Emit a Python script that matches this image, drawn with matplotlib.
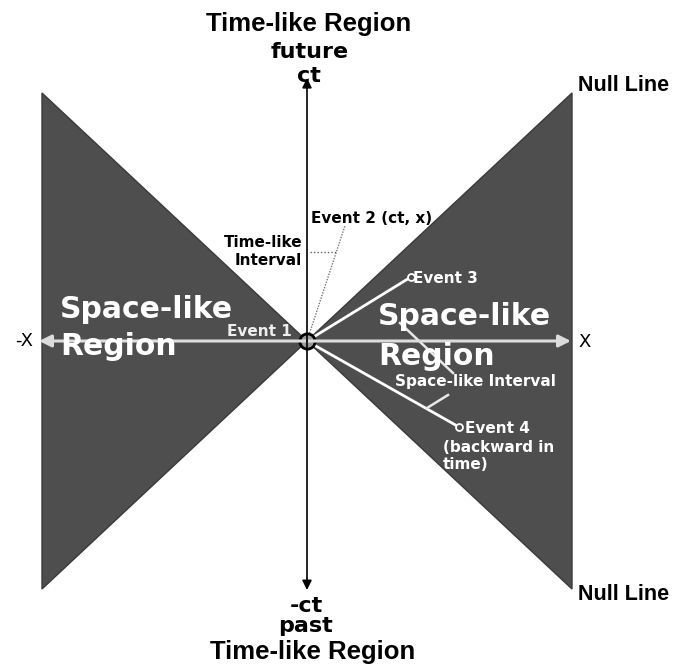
import matplotlib.pyplot as plt
from matplotlib.patches import Polygon

# ---- data (spacetime units: x, ct) ----
cone_extent = 1.0                      # null lines ct = +/- x, drawn out to |x| = 1
event_names = ["Event 1", "Event 2 (ct, x)", "Event 3", "Event 4", "(backward in", "time)"]
event_x = [0.0, 0.143, 0.392, 0.574]
event_ct = [0.0, 0.464, 0.258, -0.347]
timelike_interval_ct = 0.359
axis_x_range = [-1.011, 0.996]
axis_ct_range = [-1.004, 1.06]

SX, SY = 265.0, 248.0   # px per unit
CX, CY = 307.0, 341.0   # origin in pixels
W, H = 675, 666

fig = plt.figure(figsize=(W / 100, H / 100), dpi=100)
ax = fig.add_axes([0, 0, 1, 1])
ax.set_xlim(-CX / SX, (W - CX) / SX)
ax.set_ylim((CY - H) / SY, CY / SY)
ax.axis("off")

gray = "#4e4e4e"
e = cone_extent
ax.add_patch(Polygon([(-e, e), (0, 0), (-e, -e)], closed=True, fc=gray, ec="#3a3a3a", lw=1))
ax.add_patch(Polygon([(e, e), (0, 0), (e, -e)], closed=True, fc=gray, ec="#3a3a3a", lw=1))

# horizontal x-axis (light) with arrows at both ends
for end in axis_x_range:
    ax.annotate("", xy=(end, 0), xytext=(0, 0),
                arrowprops=dict(arrowstyle="-|>", color="#dcdcdc", lw=2.2, mutation_scale=18,
                                shrinkA=0, shrinkB=0))
# vertical ct-axis (black)
for end in axis_ct_range:
    ax.annotate("", xy=(0, end), xytext=(0, 0),
                arrowprops=dict(arrowstyle="-|>", color="black", lw=1.2, mutation_scale=14,
                                shrinkA=0, shrinkB=0))

# event 2 (time-like) dotted line
ax.plot([0, event_x[1]], [0, event_ct[1]], color="#777777", lw=1, ls=(0, (1, 1)))
ti_x = event_x[1] * timelike_interval_ct / event_ct[1]
ax.plot([0.01, ti_x], [timelike_interval_ct] * 2, color="#666666", lw=1, ls=(0, (1, 1.5)))

# event 3 and 4 lines (white)
for i in (2, 3):
    ax.plot([0, event_x[i]], [0, event_ct[i]], color="white", lw=2, solid_capstyle="butt")
    ax.plot(event_x[i], event_ct[i], "o", ms=5, mfc=gray, mec="white", mew=1.3)


def px(xp, yp):
    return (xp - CX) / SX, (CY - yp) / SY


# leader lines of the space-like interval label
for (a, b) in [((453, 373), (400, 323)), ((448, 395), (427, 408))]:
    p0, p1 = px(*a), px(*b)
    ax.plot([p0[0], p1[0]], [p0[1], p1[1]], color="#e8e8e8", lw=1.8)

# event 1 circle
ax.plot(0, 0, "o", ms=11, mfc="#9a9a9a", mec="black", mew=2)

LIB = ["Liberation Sans", "DejaVu Sans"]
DJV = ["DejaVu Sans"]


def T(xp, yp, s, size, color="black", ha="center", va="baseline", weight="bold", fam=DJV):
    x, y = px(xp, yp)
    ax.text(x, y, s, fontsize=size, color=color, ha=ha, va=va, fontweight=weight, family=fam)


# titles
T(309, 31, "Time-like Region", 18.5, fam=LIB)
T(310, 58, "future", 16)
T(309, 82, "ct", 16)
T(306, 612, "-ct", 16)
T(306, 632, "past", 16)
T(313, 659, "Time-like Region", 18.5, fam=LIB)
T(578, 91, "Null Line", 15.5, ha="left", fam=LIB)
T(578, 600, "Null Line", 15.5, ha="left", fam=LIB)
T(24, 341, "-X", 13, weight="normal", va="center")
T(585, 342, "X", 13, weight="normal", va="center")

# region labels
T(60, 318, "Space-like", 21.5, color="white", ha="left")
T(60, 355, "Region", 21.5, color="white", ha="left")
T(378, 325, "Space-like", 21.5, color="white", ha="left")
T(378, 365, "Region", 21.5, color="white", ha="left")

# event labels
T(292, 336, event_names[0], 11, color="#eeeeee", ha="right")
T(311, 223, event_names[1], 11, ha="left")
T(302, 247, "Time-like", 11, ha="right")
T(302, 265, "Interval", 11, ha="right")
T(413, 283, event_names[2], 11, color="white", ha="left")
T(395, 386, "Space-like Interval", 11, color="white", ha="left")
T(465, 433, event_names[3], 11, color="white", ha="left")
T(443, 452, event_names[4], 11, color="white", ha="left")
T(443, 469, event_names[5], 11, color="white", ha="left")

fig.savefig("out.png", dpi=100, facecolor="white")
